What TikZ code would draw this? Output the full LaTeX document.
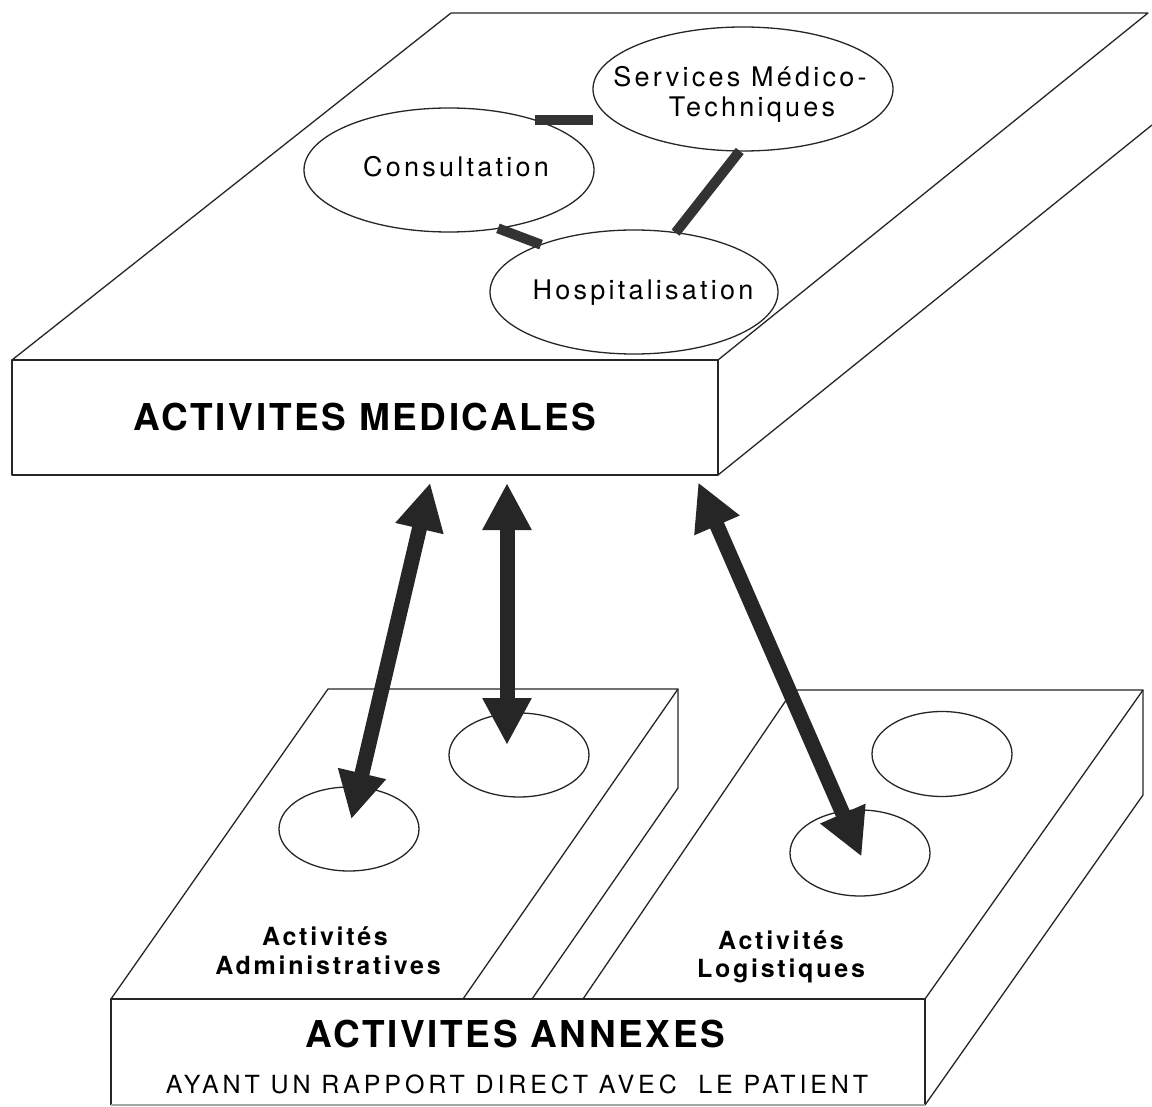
\documentclass[tikz,border=0pt]{standalone}
\usepackage{fontspec}
\setmainfont{TeX Gyre Heros}
\usetikzlibrary{arrows.meta,calc,shapes.geometric}
\begin{document}
\begin{tikzpicture}[x=1pt,y=-1pt,
  edgeline/.style={draw=black!85, line width=1.3pt, line join=round},
  faintline/.style={draw=black!35, line width=1.3pt},
  ovalshape/.style={edgeline, ellipse, inner sep=0pt, outer sep=0pt},
  ovaltext/.style={font=\fontsize{27}{30}\selectfont\addfontfeature{LetterSpace=12}, inner sep=0pt, anchor=base},
  bigtitle/.style={font=\fontsize{37}{40}\selectfont\bfseries\addfontfeature{LetterSpace=7}},
  sublabel/.style={font=\fontsize{25}{28}\selectfont\bfseries\addfontfeature{LetterSpace=11}, inner sep=0pt, anchor=base},
  subnote/.style={font=\fontsize{25}{28}\selectfont\addfontfeature{LetterSpace=15.5}, inner sep=0pt, anchor=base},
  linkbar/.style={line width=10pt, draw=black!80},
  flowarrow/.style={line width=15pt, draw=black!85, fill=black!85,
    {Triangle[length=47pt,width=46pt]}-{Triangle[length=47pt,width=46pt]}},
]
\fill[white] (0,0) rectangle (1152,1107);
\useasboundingbox (0,0) rectangle (1152,1107);

% ---- upper slab: medical activities ----
\draw[edgeline] (12,360) -- (451,13) -- (1148,13) -- (718,360);
\draw[edgeline] (718,475) -- (1152,125);
\node[edgeline, rectangle, minimum width=706pt, minimum height=115pt,
      inner sep=0pt, outer sep=0pt, anchor=north west, bigtitle] (med) at (12,360) {ACTIVITES MEDICALES};

\node[ovalshape, minimum width=290pt, minimum height=124pt] (cons) at (449,170) {};
\node[ovaltext] at ($(cons)+(7,7)$) {Consultation};
\node[ovalshape, minimum width=300pt, minimum height=124pt] (serv) at (743,89) {};
\node[ovaltext] at ($(serv)+(-3,-2)$) {Services Médico-};
\node[ovaltext] at ($(serv)+(9,28)$) {Techniques};
\node[ovalshape, minimum width=288pt, minimum height=124pt] (hosp) at (634,292) {};
\node[ovaltext] at ($(hosp)+(9,8)$) {Hospitalisation};

\draw[linkbar] (cons.30) -- (cons.30 -| serv.west);
\draw[linkbar] (cons.-50) -- (hosp.153);
\draw[linkbar] (serv.-93) -- (hosp.55);

% ---- lower slab: administrative part ----
\draw[edgeline] (111,999) -- (328,689) -- (678,689) -- (463,999);
\draw[edgeline] (678,689) -- (678,788) -- (532,999);
\node[ovalshape, minimum width=140pt, minimum height=84pt] (adm1) at (349,829) {};
\node[ovalshape, minimum width=140pt, minimum height=84pt] (adm2) at (519,755) {};
\node[sublabel] at (325,945) {Activités};
\node[sublabel] at (328,974) {Administratives};

% ---- lower slab: logistics part ----
\draw[edgeline] (583,999) -- (793,690) -- (1143,690) -- (925,999);
\draw[edgeline] (1143,690) -- (1143,795) -- (925,1105);
\node[ovalshape, minimum width=140pt, minimum height=85pt] (log2) at (942,754) {};
\node[ovalshape, minimum width=140pt, minimum height=86pt] (log1) at (860,853) {};
\node[sublabel] at (781,949) {Activités};
\node[sublabel] at (781,977) {Logistiques};

% ---- front face of the lower slab ----
\node[rectangle, minimum width=814pt, minimum height=106pt, inner sep=0pt, outer sep=0pt,
      anchor=north west] (annex) at (111,999) {};
\draw[edgeline] (annex.south west) -- (annex.north west) -- (annex.north east) -- (annex.south east);
\draw[faintline] (annex.south west) -- (annex.south east);
\node[bigtitle, anchor=base] at (515,1047) {ACTIVITES ANNEXES};
\node[subnote] at (517,1093) {AYANT UN RAPPORT DIRECT AVEC\ \ LE PATIENT};

% ---- exchanges between the two levels ----
\coordinate (mA) at ($(med.south west)+(420,0)$);
\coordinate (mB) at ($(med.south west)+(495,0)$);
\coordinate (mC) at ($(med.south west)+(683,0)$);
\draw[flowarrow, shorten <=8pt, shorten >=10pt] (mA) -- (adm1.center);
\draw[flowarrow, shorten <=8pt, shorten >=10pt] (mB) -- (mB |- adm2.center);
\draw[flowarrow, shorten <=8pt, shorten >=-4pt] (mC) -- (log1.center);
\end{tikzpicture}
\end{document}
